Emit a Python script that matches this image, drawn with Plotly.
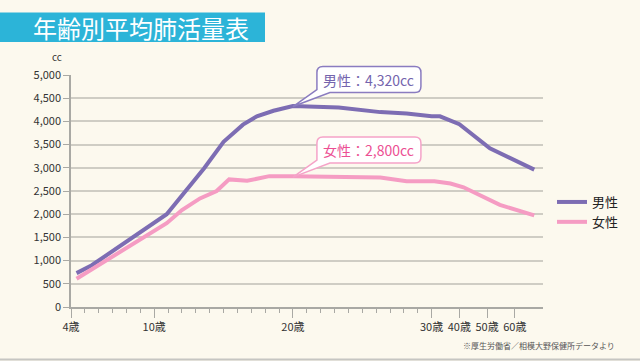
import numpy as np
import plotly.graph_objects as go

# ---------------- data ----------------
male_age = [4.4, 5.5, 10.9, 12.1, 13.6, 15.0, 16.4, 17.4, 18.6, 20.0, 23.3, 26.3,
            28.2, 30.0, 33.0, 40.0, 51.0, 67.0]
male_cc = [730, 900, 2000, 2450, 2990, 3560, 3930, 4110, 4230, 4330, 4300, 4200,
           4170, 4110, 4110, 3940, 3420, 2960]
female_age = [4.4, 10.9, 12.0, 13.3, 14.5, 15.4, 16.7, 18.3, 20.0, 26.3, 28.2,
              31.0, 36.8, 41.5, 54.6, 67.0]
female_cc = [610, 1806, 2090, 2340, 2500, 2750, 2720, 2820, 2820, 2790, 2710,
             2710, 2660, 2580, 2200, 1975]
tick_ages = [4, 10, 20, 30, 40, 50, 60]
tick_labels = ["4歳", "10歳", "20歳", "30歳", "40歳", "50歳", "60歳"]
peak_age = 20
male_peak = 4320
female_peak = 2800
series_names = ["男性", "女性"]
title_text = "年齢別平均肺活量表"
source_text = "※厚生労働省／相模大野保健所データより"

# ---------------- layout constants ----------------
W, H = 640, 361
ML, MR, MT, MB = 71, 97, 75, 54
PW, PH = W - ML - MR, H - MT - MB
XMIN = 4.0
XMAX = XMIN + PW / 13.87
YMAX = 5000

BG = "#fcf9ee"
MALE = "#7d6db3"
FEMALE = "#f59cc3"
MALE_TXT = "#7464ad"
FEMALE_TXT = "#ec4f93"
GRID = "#cfcdc4"
AXIS = "#a9a9a4"
TXT = "#333333"
FONT = "Noto Sans CJK JP"


def pos(a):
    """age -> axis position (linear to 30, compressed after 30)"""
    a = np.asarray(a, dtype=float)
    return np.where(a <= 30, a, 30 + (a - 30) * 0.2)


def px2paper(px, py):
    return (px - ML) / PW, (H - MB - py) / PH


def data2px(u, v):
    return ML + (u - XMIN) / (XMAX - XMIN) * PW, H - MB - v / YMAX * PH


minor_vals = [a for a in range(5, 30) if a not in tick_ages]

fig = go.Figure()
fig.add_trace(go.Scatter(x=pos(male_age), y=male_cc, mode="lines", name=series_names[0],
                         line=dict(color=MALE, width=4), hoverinfo="skip"))
fig.add_trace(go.Scatter(x=pos(female_age), y=female_cc, mode="lines", name=series_names[1],
                         line=dict(color=FEMALE, width=4), hoverinfo="skip"))

shapes = []
annotations = []

# title bar
x0, y0 = px2paper(0, 42)
x1, y1 = px2paper(265, 12.5)
shapes.append(dict(type="rect", xref="paper", yref="paper", x0=x0, y0=y0, x1=x1, y1=y1,
                   fillcolor="#2cb4d8", line=dict(width=0), layer="above"))
tx, ty = px2paper(31, 27.5)
annotations.append(dict(text=title_text, xref="paper", yref="paper", x=tx, y=ty,
                        xanchor="left", yanchor="middle", showarrow=False,
                        font=dict(family=FONT, size=24, color="white")))

# bottom rule
lx0, ly = px2paper(0, 359.5)
lx1, _ = px2paper(W, 359.5)
shapes.append(dict(type="line", xref="paper", yref="paper", x0=lx0, x1=lx1, y0=ly, y1=ly,
                   line=dict(color="#c6c6c2", width=2)))

# source note
sx, sy = px2paper(617, 345)
annotations.append(dict(text=source_text, xref="paper", yref="paper", x=sx, y=sy,
                        xanchor="right", yanchor="middle", showarrow=False,
                        font=dict(family=FONT, size=8, color="#555555")))

# unit label
cx, cy = px2paper(57, 56)
annotations.append(dict(text="cc", xref="paper", yref="paper", x=cx, y=cy,
                        xanchor="center", yanchor="middle", showarrow=False,
                        font=dict(family=FONT, size=10, color=TXT)))


def callout(value, color, txtcolor, label):
    tpx, tpy = data2px(float(pos(peak_age)), value)
    left, right = tpx + 24, tpx + 128
    top, bottom = tpy - 40, tpy - 14
    r = 6
    pts = [("M", left + r, top), ("L", right - r, top), ("Q", right, top, right, top + r),
           ("L", right, bottom - r), ("Q", right, bottom, right - r, bottom),
           ("L", left + 13, bottom), ("L", tpx, tpy), ("L", left, bottom - 3),
           ("L", left, top + r), ("Q", left, top, left + r, top)]
    path = ""
    for p in pts:
        cmd, coords = p[0], p[1:]
        conv = []
        for i in range(0, len(coords), 2):
            a, b = px2paper(coords[i], coords[i + 1])
            conv.append(f"{a:.5f},{b:.5f}")
        path += cmd + " ".join(conv) + " "
    path += "Z"
    shapes.append(dict(type="path", xref="paper", yref="paper", path=path,
                       fillcolor="white", line=dict(color=color, width=1.5), layer="above"))
    ax, ay = px2paper((left + right) / 2, (top + bottom) / 2)
    annotations.append(dict(text=f"{label}：{value:,}cc", xref="paper", yref="paper",
                            x=ax, y=ay, xanchor="center", yanchor="middle", showarrow=False,
                            font=dict(family=FONT, size=14, color=txtcolor)))


callout(male_peak, "#8a7cc0", MALE_TXT, series_names[0])
callout(female_peak, "#f5a3c8", FEMALE_TXT, series_names[1])

lgx, lgy = px2paper(552, 187)

fig.update_layout(
    width=W, height=H,
    margin=dict(l=ML, r=MR, t=MT, b=MB, pad=0),
    paper_bgcolor=BG, plot_bgcolor=BG,
    font=dict(family=FONT, size=11, color=TXT),
    showlegend=True,
    legend=dict(x=lgx, y=lgy, xanchor="left", yanchor="top", bgcolor="rgba(0,0,0,0)",
                font=dict(family=FONT, size=13, color="#222222"), itemwidth=30,
                traceorder="normal"),
    shapes=shapes,
    annotations=annotations,
    xaxis=dict(range=[XMIN, XMAX], tickmode="array", tickvals=pos(tick_ages).tolist(),
               ticktext=tick_labels, ticks="outside", ticklen=9, tickcolor=AXIS,
               tickwidth=1, showgrid=False, zeroline=False, showline=True,
               linecolor=AXIS, linewidth=1.5, fixedrange=True,
               tickfont=dict(family=FONT, size=11, color=TXT),
               minor=dict(tickmode="array", tickvals=minor_vals, ticks="outside",
                          ticklen=4, tickcolor=AXIS, showgrid=False)),
    yaxis=dict(range=[0, YMAX], dtick=500, tick0=0, tickformat=",d", ticks="outside",
               ticklen=6, tickcolor=AXIS, showgrid=True, gridcolor=GRID, gridwidth=1.5,
               zeroline=False, showline=True, linecolor=AXIS, linewidth=1.5,
               fixedrange=True, tickfont=dict(family=FONT, size=11, color=TXT)),
)

fig.write_html(
    "out.html",
    config={"displayModeBar": False},
    post_script="document.body.style.margin='0';document.body.style.background='" + BG + "';",
)
